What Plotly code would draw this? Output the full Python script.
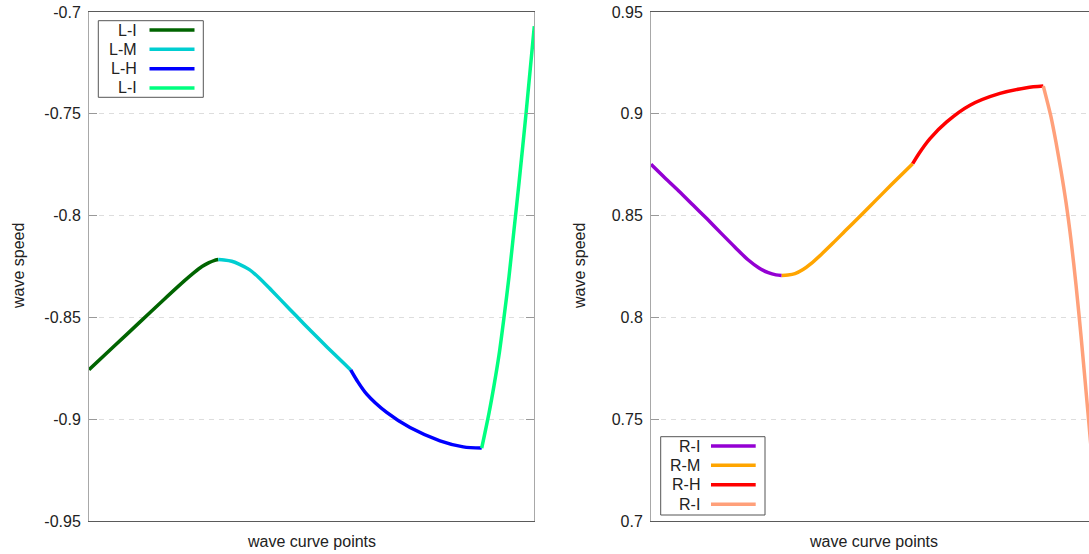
import plotly.graph_objects as go

# ---- data: wave speed along the wave curve, one list pair per branch ----
# left family (negative speeds)
l_i_x = [0, 25, 50, 75, 95, 105, 113, 120, 125, 129.3]
l_i_y = [-0.8757, -0.8642, -0.8527, -0.8412, -0.8322, -0.8280, -0.8250, -0.8231, -0.8221, -0.8216]
l_m_x = [129.3, 135, 142.7, 150, 160, 170, 182.7, 200, 215, 231, 246, 261.7]
l_m_y = [-0.8216, -0.8218, -0.8224, -0.8238, -0.8264, -0.8305, -0.8368, -0.8456, -0.8532, -0.8611, -0.8684, -0.8758]
l_h_x = [261.7, 268, 277.7, 297.7, 321, 351, 374.3, 392.7]
l_h_y = [-0.8758, -0.8810, -0.8877, -0.8967, -0.9041, -0.9106, -0.9136, -0.9142]
l_i2_x = [392.7, 400, 405, 410, 415, 420, 425, 430, 437, 445.3]
l_i2_y = [-0.9142, -0.8970, -0.8835, -0.8685, -0.8500, -0.8300, -0.8070, -0.7840, -0.7500, -0.7070]

# right family (positive speeds)
r_i_x = [0, 14, 28, 42, 56, 70, 84, 97, 108, 117.3, 125, 130.7]
r_i_y = [0.8752, 0.8685, 0.8620, 0.8552, 0.8484, 0.8414, 0.8345, 0.8283, 0.8243, 0.8220, 0.8209, 0.8206]
r_m_x = [130.7, 137, 144, 152, 160, 170, 182, 194, 210, 225, 240, 261.7]
r_m_y = [0.8206, 0.8208, 0.8215, 0.8235, 0.8264, 0.8308, 0.8365, 0.8424, 0.8502, 0.8576, 0.8650, 0.8755]
r_h_x = [261.7, 268, 279, 295.7, 319, 349, 375.7, 392.3]
r_h_y = [0.8755, 0.8805, 0.8878, 0.8960, 0.9042, 0.9100, 0.9128, 0.9136]
r_i2_x = [392.3, 400, 405, 410, 415, 420, 425, 430, 437, 445.3]
r_i2_y = [0.9136, 0.8985, 0.8860, 0.8720, 0.8565, 0.8380, 0.8160, 0.7910, 0.7530, 0.7070]

left_names = ["L-I", "L-M", "L-H", "L-I"]
right_names = ["R-I", "R-M", "R-H", "R-I"]
left_colors = ["#006400", "#00CED1", "#0000FF", "#00FF7F"]
right_colors = ["#9400D3", "#FFA500", "#FF0000", "#FFA07A"]

left_ticks = [-0.95, -0.9, -0.85, -0.8, -0.75, -0.7]
left_ticktext = ["-0.95", "-0.9", "-0.85", "-0.8", "-0.75", "-0.7"]
right_ticks = [0.7, 0.75, 0.8, 0.85, 0.9, 0.95]
right_ticktext = ["0.7", "0.75", "0.8", "0.85", "0.9", "0.95"]

# ---- layout geometry (pixels) ----
W, H = 1089, 554
TOP, BOTTOM = 12, 521


def px(x):
    return x / W


def py(y):
    return (BOTTOM - y) / (BOTTOM - TOP)


FONT = "Liberation Sans, Arial, sans-serif"
TXT = "#222222"
LW = 3.5

fig = go.Figure()

left_series = [(l_i_x, l_i_y), (l_m_x, l_m_y), (l_h_x, l_h_y), (l_i2_x, l_i2_y)]
right_series = [(r_i_x, r_i_y), (r_m_x, r_m_y), (r_h_x, r_h_y), (r_i2_x, r_i2_y)]

for (xs, ys), name, col in zip(left_series, left_names, left_colors):
    fig.add_trace(go.Scatter(x=xs, y=ys, mode="lines", name=name,
                             line=dict(color=col, width=LW, shape="spline", smoothing=0.8),
                             xaxis="x", yaxis="y", showlegend=False))
for (xs, ys), name, col in zip(right_series, right_names, right_colors):
    fig.add_trace(go.Scatter(x=xs, y=ys, mode="lines", name=name,
                             line=dict(color=col, width=LW, shape="spline", smoothing=0.8),
                             xaxis="x2", yaxis="y2", showlegend=False))

axis_common = dict(showgrid=False, zeroline=False, showticklabels=False, ticks="",
                   showline=True, linecolor="#5a5a5a", linewidth=1, fixedrange=True,
                   automargin=False)
yaxis_common = dict(zeroline=False, showgrid=True, gridcolor="#dddddd", gridwidth=1,
                    griddash="5px,5px", ticks="inside", ticklen=8, tickwidth=1,
                    tickcolor="#999999", showline=True, linecolor="#a8a8a8", linewidth=1,
                    tickfont=dict(family=FONT, size=16, color=TXT), ticklabelstandoff=4,
                    automargin=False, fixedrange=True)

fig.update_layout(
    width=W, height=H,
    margin=dict(l=0, r=0, t=TOP, b=H - BOTTOM, pad=0),
    paper_bgcolor="white", plot_bgcolor="white",
    showlegend=False,
    xaxis=dict(domain=[px(89), px(534.3)], range=[0, 445.3], mirror=True, anchor="y", **axis_common),
    yaxis=dict(range=[-0.95, -0.7], tickvals=left_ticks, ticktext=left_ticktext,
               mirror="ticks", anchor="x", **yaxis_common),
    xaxis2=dict(domain=[px(651), 1.0], range=[0, 438], mirror=True, anchor="y2", **axis_common),
    yaxis2=dict(range=[0.7, 0.95], tickvals=right_ticks, ticktext=right_ticktext,
                mirror=False, anchor="x2", **yaxis_common),
)

annotations = []
shapes = []

# axis titles
for xc in (311.5, 873.5):
    annotations.append(dict(text="wave curve points", x=px(xc), y=py(541.5), xref="paper", yref="paper",
                            showarrow=False, xanchor="center", yanchor="middle",
                            font=dict(family=FONT, size=16, color=TXT)))
for xc in (18, 579):
    annotations.append(dict(text="wave speed", x=px(xc), y=py(266), xref="paper", yref="paper",
                            showarrow=False, xanchor="center", yanchor="middle", textangle=-90,
                            font=dict(family=FONT, size=16, color=TXT)))


# key boxes: label on the left, line sample on the right
def add_key(names, colors, box, text_right, line_x0, line_x1, rows):
    shapes.append(dict(type="rect", xref="paper", yref="paper",
                       x0=px(box[0]), x1=px(box[2]), y0=py(box[1]), y1=py(box[3]),
                       line=dict(color="#555555", width=1), fillcolor="white", layer="above"))
    for name, col, ry in zip(names, colors, rows):
        annotations.append(dict(text=name, x=px(text_right), y=py(ry), xref="paper", yref="paper",
                                showarrow=False, xanchor="right", yanchor="middle",
                                font=dict(family=FONT, size=16, color=TXT)))
        shapes.append(dict(type="line", xref="paper", yref="paper",
                           x0=px(line_x0), x1=px(line_x1), y0=py(ry), y1=py(ry),
                           line=dict(color=col, width=LW), layer="above"))


add_key(left_names, left_colors, (98.3, 20.7, 203.3, 97.3), 138.5, 149.5, 194.5,
        [30, 49.3, 68.7, 88])
add_key(right_names, right_colors, (660.7, 436.7, 765, 515), 702, 711, 755.7,
        [446, 465.3, 484.7, 504.3])

fig.update_layout(annotations=annotations, shapes=shapes)

fig.write_html("out.html", config=dict(displayModeBar=False, responsive=False))
